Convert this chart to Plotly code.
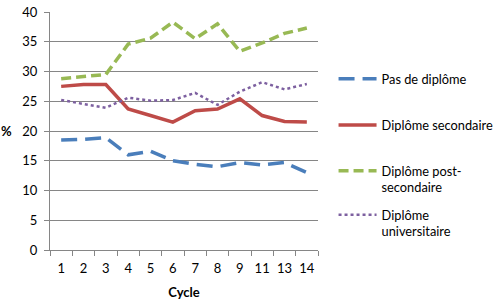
import plotly.graph_objects as go

cycles = ["1", "2", "3", "4", "5", "6", "7", "8", "9", "11", "13", "14"]
pas_diplome = [18.5, 18.6, 18.9, 16.0, 16.6, 15.0, 14.4, 14.0, 14.7, 14.3, 14.7, 13.0]
secondaire = [27.5, 27.8, 27.8, 23.7, 22.6, 21.5, 23.4, 23.7, 25.4, 22.6, 21.6, 21.5]
post_secondaire = [28.8, 29.1, 29.5, 34.6, 35.6, 38.3, 35.5, 38.0, 33.4, 34.8, 36.4, 37.3]
universitaire = [25.2, 24.5, 23.9, 25.6, 25.1, 25.2, 26.4, 24.4, 26.6, 28.2, 27.0, 27.9]
y_ticks = [0, 5, 10, 15, 20, 25, 30, 35, 40]

FONT = "Lato"
series = [
    ("Pas de diplôme", pas_diplome, "#4A7EBB", "16px,8px", 3.5),
    ("Diplôme secondaire", secondaire, "#BE4B48", "solid", 3.5),
    ("Diplôme post-<br>secondaire", post_secondaire, "#98B954", "10px,5px", 3.5),
    ("Diplôme<br>universitaire", universitaire, "#7D60A0", "dot", 2.5),
]
legend_ids = ["legend", "legend2", "legend3", "legend4"]
legend_y = [0.782, 0.588, 0.395, 0.210]

fig = go.Figure()
for (name, vals, col, dash, w), lid in zip(series, legend_ids):
    fig.add_trace(go.Scatter(
        x=cycles, y=vals, name=name, mode="lines",
        line=dict(color=col, dash=dash, width=w),
        legend=lid,
    ))

legend_common = dict(
    x=1.058, xanchor="left", yanchor="top",
    bgcolor="rgba(0,0,0,0)", valign="top", itemwidth=38,
    font=dict(family=FONT, size=12.8),
)

layout_legends = {}
for lid, ly in zip(legend_ids, legend_y):
    layout_legends[lid] = dict(legend_common, y=ly)

fig.update_layout(
    width=496, height=308,
    margin=dict(l=50, r=178, t=12, b=58, autoexpand=False),
    paper_bgcolor="white", plot_bgcolor="white",
    font=dict(family=FONT, size=13, color="#000000"),
    showlegend=True,
    xaxis=dict(
        type="category", range=[-0.5, len(cycles) - 0.5],
        tickson="boundaries", ticks="outside", ticklen=5, tickangle=0,
        tickcolor="#868686", showline=True, linecolor="#868686", linewidth=1,
        showgrid=False, tickfont=dict(size=13), ticklabelstandoff=6,
        title=dict(text="<b>Cycle</b>", font=dict(size=13), standoff=13),
    ),
    yaxis=dict(
        range=[0, 40], tickvals=y_ticks, ticks="outside", ticklen=5,
        tickcolor="#868686", showline=True, linecolor="#868686", linewidth=1,
        showgrid=True, gridcolor="#868686", gridwidth=1, zeroline=False,
        tickfont=dict(size=13), ticklabelstandoff=4,
    ),
    annotations=[dict(
        text="<b>%</b>", xref="paper", yref="paper", x=-0.135, y=0.5,
        xanchor="right", yanchor="middle", showarrow=False,
        font=dict(size=13),
    )],
    **layout_legends,
)

fig.write_html("out.html")
